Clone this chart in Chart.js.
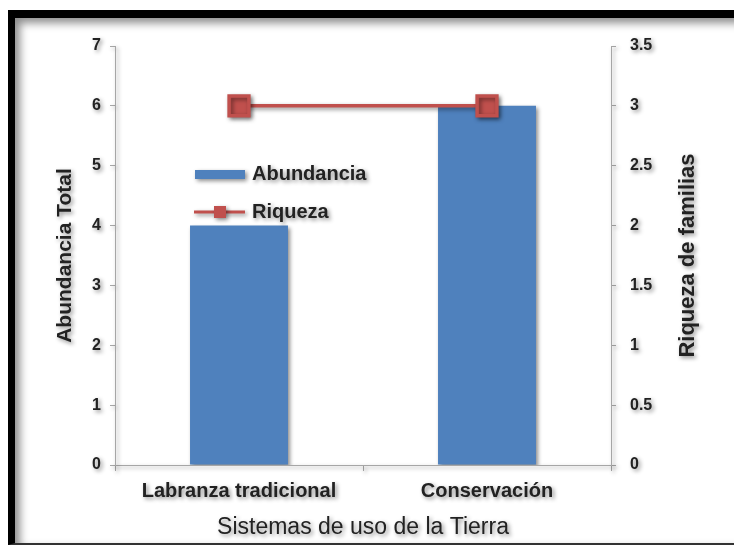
<!DOCTYPE html>
<html>
<head>
<meta charset="utf-8">
<script src="https://cdn.jsdelivr.net/npm/chart.js@4.4.1/dist/chart.umd.min.js"></script>
<style>
  body { margin: 0; background: #fff; }
  #wrap { position: relative; width: 734px; height: 547px; overflow: hidden; }
  #grafico { position: absolute; left: 0; top: 0; }
  #marco {
    position: absolute; left: 8px; top: 10px; width: 800px; height: 525px;
    border-left: 7px solid #000; border-top: 8px solid #000; border-bottom: 2px solid #333;
    box-shadow: inset 5px 5px 9px rgba(0,0,0,0.45);
    pointer-events: none;
  }
</style>
</head>
<body>
<div id="wrap">
  <canvas id="grafico" width="734" height="547"></canvas>
  <div id="marco"></div>
</div>
<script>
var categorias = ['Labranza tradicional', 'Conservación'];
var abundancia = [4, 6];
var riqueza = [3, 3];

var azul = '#4F81BD';
var rojo = '#C0504D';
var gris = '#a6a6a6';
var fuente = '"Liberation Sans", Arial, sans-serif';

// sombra suave como la del original
var sombra = {
  id: 'sombra',
  beforeDraw: function (chart) {
    var ctx = chart.ctx;
    ctx.shadowColor = 'rgba(0,0,0,0.45)';
    ctx.shadowBlur = 4;
    ctx.shadowOffsetX = 2;
    ctx.shadowOffsetY = 2;
  }
};

// leyenda dentro del área y título del eje derecho
var extras = {
  id: 'extras',
  afterDraw: function (chart) {
    var ctx = chart.ctx;
    var barras = chart.data.datasets[0];
    var linea = chart.data.datasets[1];
    ctx.save();
    ctx.font = 'bold 20px ' + fuente;
    ctx.textBaseline = 'middle';
    ctx.textAlign = 'left';

    ctx.fillStyle = barras.backgroundColor;
    ctx.fillRect(195, 170, 50, 9);
    ctx.fillStyle = '#222';
    ctx.fillText(barras.label, 252, 174);

    ctx.strokeStyle = linea.borderColor;
    ctx.lineWidth = 3;
    ctx.beginPath();
    ctx.moveTo(194, 212);
    ctx.lineTo(245, 212);
    ctx.stroke();
    ctx.fillStyle = linea.pointBackgroundColor;
    ctx.fillRect(214, 206, 12, 12);
    ctx.fillStyle = '#222';
    ctx.fillText(linea.label, 252, 212);

    var ca = chart.chartArea;
    ctx.translate(688, (ca.top + ca.bottom) / 2);
    ctx.rotate(-Math.PI / 2);
    ctx.textAlign = 'center';
    ctx.font = 'bold 22px ' + fuente;
    ctx.fillText('Riqueza de familias', 0, 0);
    ctx.restore();
  }
};

new Chart(document.getElementById('grafico').getContext('2d'), {
  data: {
    labels: categorias,
    datasets: [{
      type: 'bar',
      label: 'Abundancia',
      data: abundancia,
      yAxisID: 'y',
      backgroundColor: azul,
      categoryPercentage: 1,
      barPercentage: 0.395,
      order: 1
    }, {
      type: 'line',
      label: 'Riqueza',
      data: riqueza,
      yAxisID: 'y1',
      borderColor: rojo,
      backgroundColor: rojo,
      pointBackgroundColor: rojo,
      pointBorderColor: rojo,
      borderWidth: 3.5,
      pointStyle: 'rect',
      pointRadius: 14,
      order: 0
    }]
  },
  plugins: [sombra, extras],
  options: {
    responsive: false,
    animation: false,
    layout: { padding: { left: 15, right: 0, top: 46, bottom: 3 } },
    plugins: { legend: { display: false }, tooltip: { enabled: false } },
    scales: {
      x: {
        offset: true,
        grid: { offset: true, drawOnChartArea: false, color: gris, tickLength: 6 },
        border: { color: gris },
        ticks: { color: '#222', padding: 8, font: { family: fuente, size: 20, weight: 'bold' } },
        title: { display: true, text: 'Sistemas de uso de la Tierra', color: '#222', padding: { top: 0, bottom: 3 },
          font: { family: fuente, size: 23 } },
        afterFit: function (s) { s.height = 547 - 465 - 3; }
      },
      y: {
        position: 'left',
        min: 0, max: 7,
        ticks: { stepSize: 1, color: '#222', padding: 9, font: { family: fuente, size: 16, weight: 'bold' } },
        grid: { drawOnChartArea: false, color: gris, tickLength: 5 },
        border: { color: gris },
        title: { display: true, text: 'Abundancia Total', color: '#222', padding: { top: 38, bottom: 0 },
          font: { family: fuente, size: 21, weight: 'bold' } },
        afterFit: function (s) { s.width = 115 - 15; }
      },
      y1: {
        position: 'right',
        min: 0, max: 3.5,
        ticks: { stepSize: 0.5, color: '#222', padding: 14, font: { family: fuente, size: 16, weight: 'bold' },
          callback: function (v) { return String(v); } },
        grid: { drawOnChartArea: false, color: gris, tickLength: 5 },
        border: { color: gris },
        afterFit: function (s) { s.width = 734 - 611; }
      }
    }
  }
});
</script>
</body>
</html>
